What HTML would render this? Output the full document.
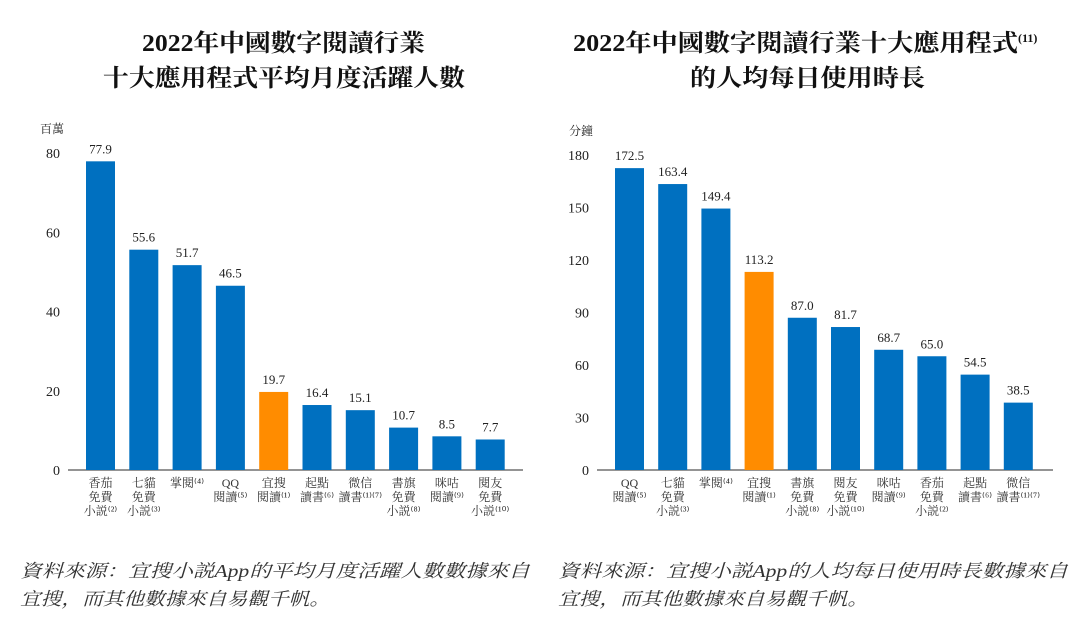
<!DOCTYPE html>
<html><head><meta charset="utf-8"><style>
body{margin:0;background:#fff;width:1080px;height:613px;overflow:hidden;font-family:"Liberation Serif","Noto Serif CJK SC",serif;}
svg text{font-family:"Liberation Serif","Noto Serif CJK SC",serif;}
</style></head><body>
<svg width="1080" height="613">
<g id="left"></g>
<g id="right"></g>
<text x="142" y="51" textLength="283" lengthAdjust="spacingAndGlyphs" font-size="24" font-weight="bold" fill="#111">2022年中國數字閱讀行業</text>
<text x="103" y="86" textLength="362" lengthAdjust="spacingAndGlyphs" font-size="24" font-weight="bold" fill="#111">十大應用程式平均月度活躍人數</text>
<text x="573" y="51" font-size="24" font-weight="bold" fill="#111"><tspan textLength="445" lengthAdjust="spacingAndGlyphs">2022年中國數字閱讀行業十大應用程式</tspan><tspan font-size="12" dy="-9">(11)</tspan></text>
<text x="690" y="86" textLength="235" lengthAdjust="spacingAndGlyphs" font-size="24" font-weight="bold" fill="#111">的人均每日使用時長</text>
<text x="20" y="577" textLength="510" lengthAdjust="spacingAndGlyphs" font-size="18" font-style="italic" fill="#333">資料來源：宜搜小説App的平均月度活躍人數數據來自</text>
<text x="20" y="605" textLength="310" lengthAdjust="spacingAndGlyphs" font-size="18" font-style="italic" fill="#333">宜搜，而其他數據來自易觀千帆。</text>
<text x="558" y="577" textLength="510" lengthAdjust="spacingAndGlyphs" font-size="18" font-style="italic" fill="#333">資料來源：宜搜小説App的人均每日使用時長數據來自</text>
<text x="558" y="605" textLength="310" lengthAdjust="spacingAndGlyphs" font-size="18" font-style="italic" fill="#333">宜搜，而其他數據來自易觀千帆。</text>
</svg>
<script>
const leftCats=[["香茄","免費","小説⁽²⁾"],["七貓","免費","小説⁽³⁾"],["掌閱⁽⁴⁾"],["QQ","閱讀⁽⁵⁾"],["宜搜","閱讀⁽¹⁾"],["起點","讀書⁽⁶⁾"],["微信","讀書⁽¹⁾⁽⁷⁾"],["書旗","免費","小説⁽⁸⁾"],["咪咕","閱讀⁽⁹⁾"],["閱友","免費","小説⁽¹⁰⁾"]];
const leftVals=[77.9,55.6,51.7,46.5,19.7,16.4,15.1,10.7,8.5,7.7];
const leftTicks=[0,20,40,60,80];
const rightCats=[["QQ","閱讀⁽⁵⁾"],["七貓","免費","小説⁽³⁾"],["掌閱⁽⁴⁾"],["宜搜","閱讀⁽¹⁾"],["書旗","免費","小説⁽⁸⁾"],["閱友","免費","小説⁽¹⁰⁾"],["咪咕","閱讀⁽⁹⁾"],["香茄","免費","小説⁽²⁾"],["起點","讀書⁽⁶⁾"],["微信","讀書⁽¹⁾⁽⁷⁾"]];
const rightVals=[172.5,163.4,149.4,113.2,87.0,81.7,68.7,65.0,54.5,38.5];
const rightTicks=[0,30,60,90,120,150,180];
const NS="http://www.w3.org/2000/svg";
function mk(p,t,a){const e=document.createElementNS(NS,t);for(const k in a)e.setAttribute(k,a[k]);p.appendChild(e);return e;}
function draw(g,cats,vals,ticks,max,x0,x1,first,step,hiIdx,unit){
  const y0=470,ytop=153+(max===180?2:0);
  const ys=v=>y0-(v/max)*(y0-ytop);
  const u=mk(g,"text",{x:x0-28,y:ytop-20,"font-size":12,fill:"#222"});u.textContent=unit;
  
  
  ticks.forEach(t=>{const e=mk(g,"text",{x:x0-8,y:ys(t)+5,"text-anchor":"end","font-size":14,fill:"#222"});e.textContent=t;
    
    });
  const ax=mk(g,"line",{x1:x0,x2:x1,y1:y0,y2:y0,stroke:"#555","stroke-width":1.2});
  
  
  vals.forEach((v,i)=>{const cx=first+i*step;
    const r=mk(g,"rect",{x:cx-14.5,y:ys(v),width:29,height:y0-ys(v),fill:i===hiIdx?"#FF8C00":"#0070C0"});
    
    
    const l=mk(g,"text",{x:cx,y:ys(v)-8,"text-anchor":"middle","font-size":13,fill:"#222"});l.textContent=v.toFixed(1);
    
    
    cats[i].forEach((s,j)=>{const c=mk(g,"text",{x:cx,y:y0+17+j*14,"text-anchor":"middle","font-size":12,fill:"#333"});c.textContent=s;
      
      });
  });
}
draw(document.getElementById("left"),leftCats,leftVals,leftTicks,80,68,523,100.5,43.3,4,"百萬");
draw(document.getElementById("right"),rightCats,rightVals,rightTicks,180,597,1053,629.5,43.2,3,"分鐘");
</script>
</body></html>
